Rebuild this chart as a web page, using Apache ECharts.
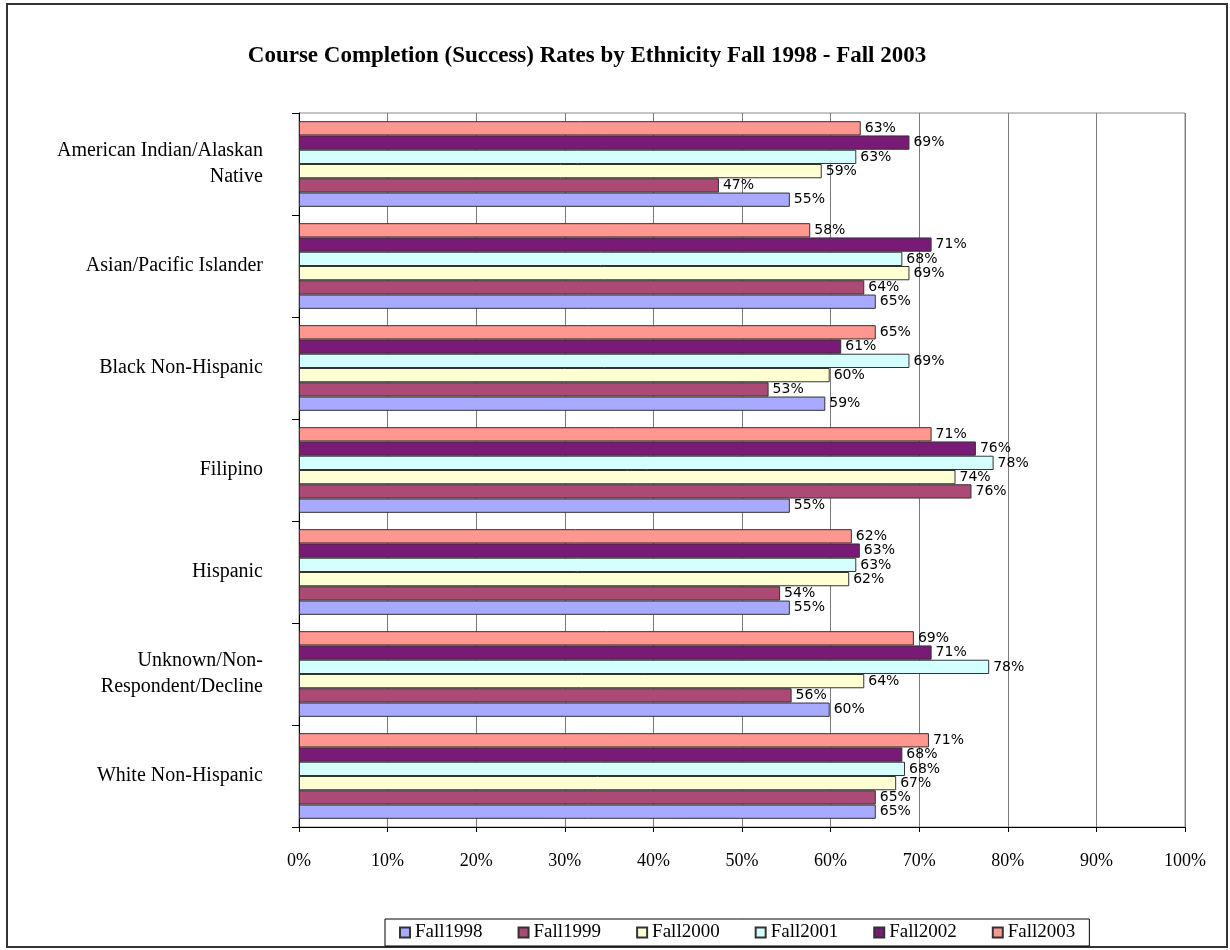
<!DOCTYPE html>
<html>
<head>
<meta charset="utf-8">
<script src="https://cdn.jsdelivr.net/npm/echarts@6/dist/echarts.min.js"></script>
<style>
  html, body { margin: 0; padding: 0; background: #fff; }
  #chart { width: 1230px; height: 950px; }
</style>
</head>
<body>
<div id="chart"></div>
<script>
const categories = [
  'American Indian/Alaskan\nNative',
  'Asian/Pacific Islander',
  'Black Non-Hispanic',
  'Filipino',
  'Hispanic',
  'Unknown/Non-\nRespondent/Decline',
  'White Non-Hispanic',
];
const seriesNames = ['Fall1998', 'Fall1999', 'Fall2000', 'Fall2001', 'Fall2002', 'Fall2003'];
const fall1998 = [55.4, 65.1, 59.4, 55.4, 55.4, 59.9, 65.1];
const fall1999 = [47.4, 63.8, 53.0, 75.9, 54.3, 55.6, 65.1];
const fall2000 = [59.0, 68.9, 59.9, 74.1, 62.1, 63.8, 67.4];
const fall2001 = [62.9, 68.1, 68.9, 78.4, 62.9, 77.9, 68.4];
const fall2002 = [68.9, 71.4, 61.2, 76.4, 63.3, 71.4, 68.1];
const fall2003 = [63.4, 57.7, 65.1, 71.4, 62.4, 69.4, 71.1];
const xTicks = [0, 10, 20, 30, 40, 50, 60, 70, 80, 90, 100];

const seriesValues = [fall1998, fall1999, fall2000, fall2001, fall2002, fall2003];
const COLORS = ['#a8aaff', '#aa4a75', '#ffffd4', '#d4ffff', '#781a76', '#ff9690'];
const SERIF = '"Liberation Serif", "DejaVu Serif", serif';

// within a group the first series is drawn at the top, so feed them newest first
const drawOrder = [5, 4, 3, 2, 1, 0];

const chart = echarts.init(document.getElementById('chart'), null, { renderer: 'canvas' });

chart.setOption({
  animation: false,
  backgroundColor: '#fff',
  title: {
    text: 'Course Completion (Success) Rates by Ethnicity Fall 1998 - Fall 2003',
    left: 582,
    textAlign: 'center',
    top: 40,
    textStyle: { fontFamily: SERIF, fontSize: 23, fontWeight: 'bold', color: '#000' },
  },
  legend: {
    data: seriesNames,
    left: 385,
    top: 919,
    icon: 'rect',
    itemWidth: 10,
    itemHeight: 10,
    itemGap: 35,
    padding: [4, 14],
    borderColor: '#000',
    borderWidth: 1,
    textStyle: { fontFamily: SERIF, fontSize: 19, color: '#000' },
  },
  grid: {
    left: 299,
    right: 45,
    top: 113,
    bottom: 123,
    show: true,
    borderColor: '#8a8a8a',
    borderWidth: 1,
    containLabel: false,
  },
  xAxis: {
    type: 'value',
    min: xTicks[0],
    max: xTicks[xTicks.length - 1],
    interval: 10,
    axisLine: { show: true, lineStyle: { color: '#000', width: 1 } },
    axisTick: { show: true, length: 5, lineStyle: { color: '#000' } },
    axisLabel: {
      margin: 25,
      formatter: (v) => `${v}%`,
      fontFamily: SERIF,
      fontSize: 18,
      color: '#000',
    },
    splitLine: { show: true, lineStyle: { color: '#7a7a7a', width: 1 } },
  },
  yAxis: {
    type: 'category',
    inverse: true,
    data: categories,
    axisLine: { show: true, onZero: false, lineStyle: { color: '#000', width: 1 } },
    axisTick: { show: true, length: 7, lineStyle: { color: '#000' } },
    axisLabel: {
      margin: 36,
      fontFamily: SERIF,
      fontSize: 20,
      lineHeight: 26,
      color: '#000',
      align: 'right',
    },
    splitLine: { show: false },
  },
  series: drawOrder.map((i) => ({
    name: seriesNames[i],
    type: 'bar',
    data: seriesValues[i],
    barGap: '0%',
    barCategoryGap: '16%',
    itemStyle: { color: COLORS[i], borderColor: '#333', borderWidth: 1 },
    label: {
      show: true,
      position: 'right',
      distance: 4,
      formatter: (p) => `${Math.round(p.value)}%`,
      fontFamily: '"DejaVu Sans", sans-serif',
      fontSize: 14,
      color: '#000',
    },
  })),
  graphic: [
    {
      type: 'rect',
      shape: { x: 7, y: 4, width: 1220, height: 943 },
      style: { fill: 'none', stroke: '#333', lineWidth: 2 },
      silent: true,
    },
  ],
});
</script>
</body>
</html>
